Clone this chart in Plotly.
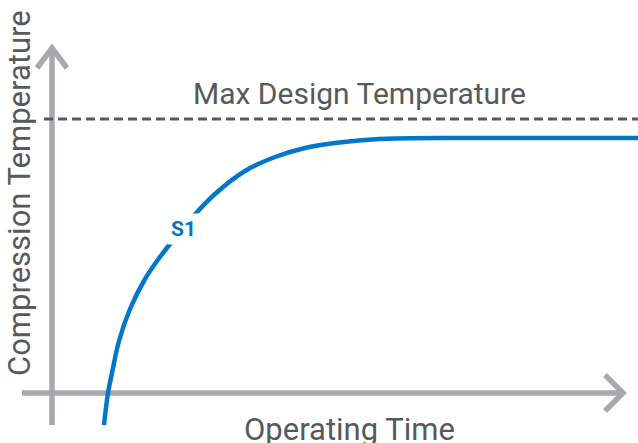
import plotly.graph_objects as go

# Data (units: chart units with origin at the axis intersection)
time = [52, 56, 60, 67, 78, 93, 105, 118, 130, 141, 163, 193, 223, 253, 283, 313, 343, 400, 500, 586]
temperature = [-32, 0, 20, 52, 84, 114, 132, 149, 163.5, 176.5, 199, 222, 236, 245, 250, 253, 254.5, 255, 255, 255]
max_design_temp = 274
series_label = "S1"
x_title = "Operating Time"
y_title = "Compression Temperature"
limit_label = "Max Design Temperature"

GRAY = "#a7a9ac"
TEXT = "#58595b"
BLUE = "#0077c8"
FONT = "Roboto"

X_MIN, X_MAX = -52, 586
Y_MIN, Y_MAX = -50, 393

fig = go.Figure()

# Axes with chevron arrowheads
axis_line = dict(color=GRAY, width=5.5)
fig.add_trace(go.Scatter(x=[0, 0], y=[-32, 345], mode="lines", line=axis_line, hoverinfo="skip"))
fig.add_trace(go.Scatter(x=[-15, 0, 15], y=[325, 345, 325], mode="lines", line=axis_line, hoverinfo="skip"))
fig.add_trace(go.Scatter(x=[-30, 571], y=[0, 0], mode="lines", line=axis_line, hoverinfo="skip"))
fig.add_trace(go.Scatter(x=[553, 571, 553], y=[18, 0, -18], mode="lines", line=axis_line, hoverinfo="skip"))

# Max design temperature line
fig.add_trace(go.Scatter(x=[-8, X_MAX], y=[max_design_temp, max_design_temp], mode="lines",
                         line=dict(color=TEXT, width=3, dash="9px,5px"), hoverinfo="skip"))

# Curve
fig.add_trace(go.Scatter(x=time, y=temperature, mode="lines",
                         line=dict(color=BLUE, width=4.5, shape="spline", smoothing=1.0),
                         hoverinfo="skip"))

fig.add_annotation(x=131, y=164, text="<b>%s</b>" % series_label, showarrow=False,
                   font=dict(family=FONT, size=21, color=BLUE), bgcolor="white",
                   borderpad=3, xanchor="center", yanchor="middle")
fig.add_annotation(x=307, y=300, text=limit_label, showarrow=False,
                   font=dict(family=FONT, size=30, color=TEXT), xanchor="center", yanchor="middle")
fig.add_annotation(x=297, y=-36, text=x_title, showarrow=False,
                   font=dict(family=FONT, size=31, color=TEXT), xanchor="center", yanchor="middle")
fig.add_annotation(x=-33, y=200, text=y_title, showarrow=False, textangle=-90,
                   font=dict(family=FONT, size=31, color=TEXT), xanchor="center", yanchor="middle")

fig.update_layout(
    width=638, height=443,
    margin=dict(l=0, r=0, t=0, b=0),
    paper_bgcolor="white", plot_bgcolor="white",
    showlegend=False,
    xaxis=dict(range=[X_MIN, X_MAX], visible=False, fixedrange=True),
    yaxis=dict(range=[Y_MIN, Y_MAX], visible=False, fixedrange=True),
)

fig.write_html("out.html", config={"displayModeBar": False},
               post_script="document.body.style.margin='0';document.body.style.padding='0';")
